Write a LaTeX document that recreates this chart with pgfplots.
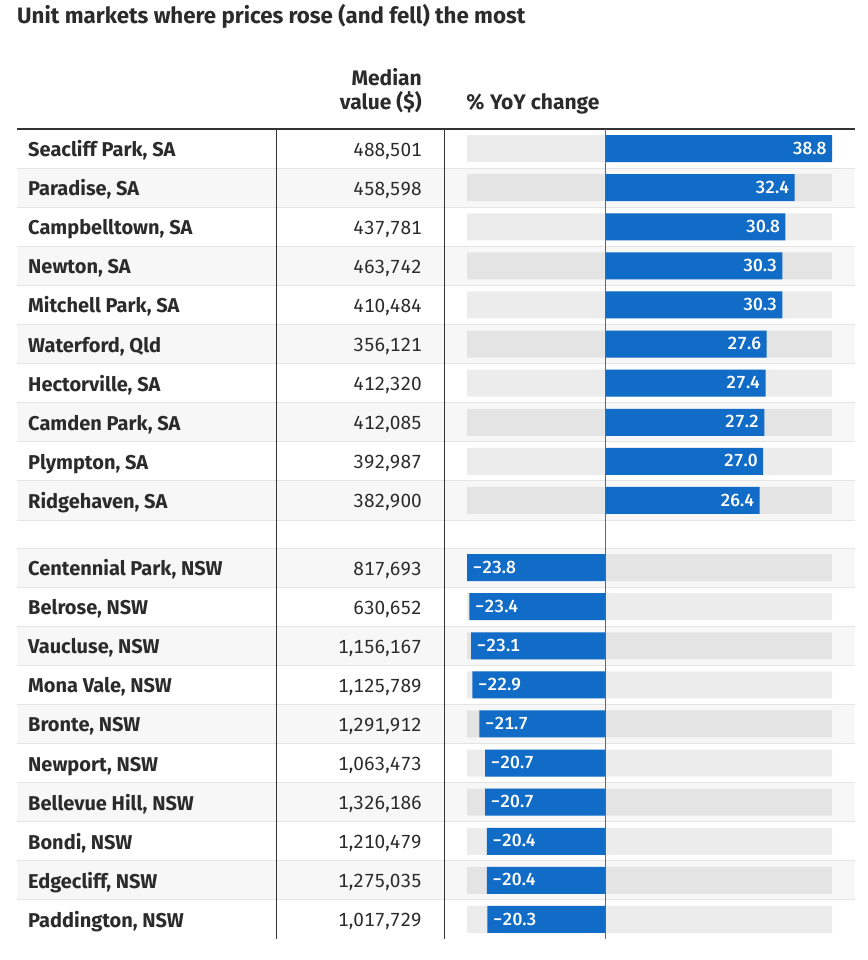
\documentclass[border=0pt]{standalone}
\usepackage{pgfplots}
\usepackage{pgfplotstable}
\pgfplotsset{compat=1.18}
\usepackage{fontspec}
\setmainfont{Fira Sans}[Numbers={Monospaced,Lining}]
\newfontfamily\labfont{Fira Sans Medium}[Numbers={Monospaced,Lining}]
\definecolor{barblue}{HTML}{116CC8}
\definecolor{txt}{HTML}{2B2B2B}
\definecolor{rowshade}{HTML}{F7F7F7}
\definecolor{sep}{HTML}{E4E4E4}
\definecolor{rule}{HTML}{333333}

\pgfplotstableread{
y val lab
148.55 38.8 38.8
187.65 32.4 32.4
226.75 30.8 30.8
265.85 30.3 30.3
304.95 30.3 30.3
344.05 27.6 27.6
383.15 27.4 27.4
422.25 27.2 27.2
461.35 27.0 27.0
500.45 26.4 26.4
}\posdata
\pgfplotstableread{
y val lab
567.55 -23.8 −23.8
606.65 -23.4 −23.4
645.75 -23.1 −23.1
684.85 -22.9 −22.9
723.95 -21.7 −21.7
763.05 -20.7 −20.7
802.15 -20.7 −20.7
841.25 -20.4 −20.4
880.35 -20.4 −20.4
919.45 -20.3 −20.3
}\negdata
\pgfplotstableread{
y hi lo
148.55 38.8 -23.8
187.65 38.8 -23.8
226.75 38.8 -23.8
265.85 38.8 -23.8
304.95 38.8 -23.8
344.05 38.8 -23.8
383.15 38.8 -23.8
422.25 38.8 -23.8
461.35 38.8 -23.8
500.45 38.8 -23.8
567.55 38.8 -23.8
606.65 38.8 -23.8
645.75 38.8 -23.8
684.85 38.8 -23.8
723.95 38.8 -23.8
763.05 38.8 -23.8
802.15 38.8 -23.8
841.25 38.8 -23.8
880.35 38.8 -23.8
919.45 38.8 -23.8
}\trackdata

\newcommand{\nm}{\fontsize{20}{22}\selectfont\bfseries\color{txt}}
\newcommand{\vl}{\fontsize{19}{22}\selectfont\color{txt}}

\begin{document}
\begin{tikzpicture}
\begin{axis}[at={(0,0)}, anchor=south west, scale only axis,
  width=867pt, height=960pt, xmin=0, xmax=867, ymin=0, ymax=960,
  y dir=reverse, hide axis, clip=false]
\path (axis cs:0,0) rectangle (axis cs:867,960);
% shaded rows
\fill[rowshade] (axis cs:17,168.1) rectangle (axis cs:855,207.2);
\fill[rowshade] (axis cs:17,246.3) rectangle (axis cs:855,285.4);
\fill[rowshade] (axis cs:17,324.5) rectangle (axis cs:855,363.6);
\fill[rowshade] (axis cs:17,402.7) rectangle (axis cs:855,441.8);
\fill[rowshade] (axis cs:17,480.9) rectangle (axis cs:855,520);
\fill[rowshade] (axis cs:17,548) rectangle (axis cs:855,587.1);
\fill[rowshade] (axis cs:17,626.2) rectangle (axis cs:855,665.3);
\fill[rowshade] (axis cs:17,704.4) rectangle (axis cs:855,743.5);
\fill[rowshade] (axis cs:17,782.6) rectangle (axis cs:855,821.7);
\fill[rowshade] (axis cs:17,860.8) rectangle (axis cs:855,899.9);
% separators
\pgfplotsinvokeforeach{168.1,207.2,246.3,285.4,324.5,363.6,402.7,441.8,480.9,520,548,587.1,626.2,665.3,704.4,743.5,782.6,821.7,860.8,899.9}{
  \draw[sep, line width=1pt] (axis cs:17,#1) -- (axis cs:855,#1);
}
% vertical rules
\draw[rule, line width=1pt] (axis cs:276,129) -- (axis cs:276,939);
\draw[rule, line width=1pt] (axis cs:444,129) -- (axis cs:444,939);
\draw[rule, line width=2.2pt] (axis cs:17,129) -- (axis cs:855,129);
% title and headers
\node[anchor=base west, inner sep=0pt, font=\fontsize{22.3}{26}\selectfont\bfseries, text=txt] at (axis cs:17,24) {Unit markets where prices rose (and fell) the most};
\node[anchor=base east, inner sep=0pt, font=\fontsize{21}{24}\selectfont\bfseries, text=txt] at (axis cs:422,86) {Median};
\node[anchor=base east, inner sep=0pt, font=\fontsize{21}{24}\selectfont\bfseries, text=txt] at (axis cs:422,110) {value (\$)};
\node[anchor=base west, inner sep=0pt, font=\fontsize{21}{24}\selectfont\bfseries, text=txt] at (axis cs:466,110) {\% YoY change};
% names
\node[anchor=base west, inner sep=0pt] at (axis cs:28,156.55) {\nm Seacliff Park, SA};
\node[anchor=base west, inner sep=0pt] at (axis cs:28,195.65) {\nm Paradise, SA};
\node[anchor=base west, inner sep=0pt] at (axis cs:28,234.75) {\nm Campbelltown, SA};
\node[anchor=base west, inner sep=0pt] at (axis cs:28,273.85) {\nm Newton, SA};
\node[anchor=base west, inner sep=0pt] at (axis cs:28,312.95) {\nm Mitchell Park, SA};
\node[anchor=base west, inner sep=0pt] at (axis cs:28,352.05) {\nm Waterford, Qld};
\node[anchor=base west, inner sep=0pt] at (axis cs:28,391.15) {\nm Hectorville, SA};
\node[anchor=base west, inner sep=0pt] at (axis cs:28,430.25) {\nm Camden Park, SA};
\node[anchor=base west, inner sep=0pt] at (axis cs:28,469.35) {\nm Plympton, SA};
\node[anchor=base west, inner sep=0pt] at (axis cs:28,508.45) {\nm Ridgehaven, SA};
\node[anchor=base west, inner sep=0pt] at (axis cs:28,575.55) {\nm Centennial Park, NSW};
\node[anchor=base west, inner sep=0pt] at (axis cs:28,614.65) {\nm Belrose, NSW};
\node[anchor=base west, inner sep=0pt] at (axis cs:28,653.75) {\nm Vaucluse, NSW};
\node[anchor=base west, inner sep=0pt] at (axis cs:28,692.85) {\nm Mona Vale, NSW};
\node[anchor=base west, inner sep=0pt] at (axis cs:28,731.95) {\nm Bronte, NSW};
\node[anchor=base west, inner sep=0pt] at (axis cs:28,771.05) {\nm Newport, NSW};
\node[anchor=base west, inner sep=0pt] at (axis cs:28,810.15) {\nm Bellevue Hill, NSW};
\node[anchor=base west, inner sep=0pt] at (axis cs:28,849.25) {\nm Bondi, NSW};
\node[anchor=base west, inner sep=0pt] at (axis cs:28,888.35) {\nm Edgecliff, NSW};
\node[anchor=base west, inner sep=0pt] at (axis cs:28,927.45) {\nm Paddington, NSW};
% values
\node[anchor=base east, inner sep=0pt] at (axis cs:422,156.05) {\vl 488,501};
\node[anchor=base east, inner sep=0pt] at (axis cs:422,195.15) {\vl 458,598};
\node[anchor=base east, inner sep=0pt] at (axis cs:422,234.25) {\vl 437,781};
\node[anchor=base east, inner sep=0pt] at (axis cs:422,273.35) {\vl 463,742};
\node[anchor=base east, inner sep=0pt] at (axis cs:422,312.45) {\vl 410,484};
\node[anchor=base east, inner sep=0pt] at (axis cs:422,351.55) {\vl 356,121};
\node[anchor=base east, inner sep=0pt] at (axis cs:422,390.65) {\vl 412,320};
\node[anchor=base east, inner sep=0pt] at (axis cs:422,429.75) {\vl 412,085};
\node[anchor=base east, inner sep=0pt] at (axis cs:422,468.85) {\vl 392,987};
\node[anchor=base east, inner sep=0pt] at (axis cs:422,507.95) {\vl 382,900};
\node[anchor=base east, inner sep=0pt] at (axis cs:422,575.05) {\vl 817,693};
\node[anchor=base east, inner sep=0pt] at (axis cs:422,614.15) {\vl 630,652};
\node[anchor=base east, inner sep=0pt] at (axis cs:422,653.25) {\vl 1,156,167};
\node[anchor=base east, inner sep=0pt] at (axis cs:422,692.35) {\vl 1,125,789};
\node[anchor=base east, inner sep=0pt] at (axis cs:422,731.45) {\vl 1,291,912};
\node[anchor=base east, inner sep=0pt] at (axis cs:422,770.55) {\vl 1,063,473};
\node[anchor=base east, inner sep=0pt] at (axis cs:422,809.65) {\vl 1,326,186};
\node[anchor=base east, inner sep=0pt] at (axis cs:422,848.75) {\vl 1,210,479};
\node[anchor=base east, inner sep=0pt] at (axis cs:422,887.85) {\vl 1,275,035};
\node[anchor=base east, inner sep=0pt] at (axis cs:422,926.95) {\vl 1,017,729};
\end{axis}

\begin{axis}[at={(467pt,0)}, anchor=south west, scale only axis,
  width=365pt, height=960pt, xmin=-23.8, xmax=38.8, ymin=0, ymax=960,
  y dir=reverse, hide axis, clip=false, xbar, bar width=27pt]
\addplot[draw=none, fill=black, fill opacity=0.075, bar shift=0pt] table[x=hi, y=y] {\trackdata};
\addplot[draw=none, fill=black, fill opacity=0.075, bar shift=0pt] table[x=lo, y=y] {\trackdata};
\addplot[draw=none, fill=barblue, bar shift=0pt,
  nodes near coords, point meta=explicit symbolic,
  every node near coord/.append style={anchor=east, xshift=-2pt, yshift=0.5pt, text=white, font=\fontsize{17.5}{19}\labfont}]
  table[x=val, y=y, meta=lab] {\posdata};
\addplot[draw=none, fill=barblue, bar shift=0pt,
  nodes near coords, point meta=explicit symbolic,
  every node near coord/.append style={anchor=west, xshift=2pt, yshift=0.5pt, text=white, font=\fontsize{17.5}{19}\labfont}]
  table[x=val, y=y, meta=lab] {\negdata};
\draw[color=black!60, line width=1.2pt] (axis cs:0,129) -- (axis cs:0,939);
\end{axis}
\end{tikzpicture}
\end{document}
